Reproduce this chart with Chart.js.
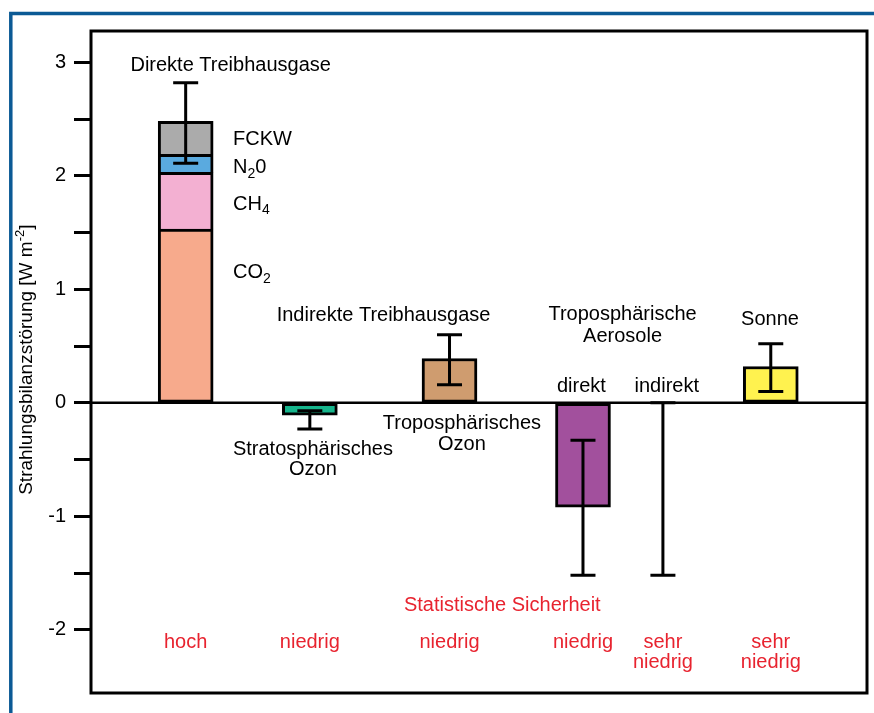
<!DOCTYPE html>
<html>
<head>
<meta charset="utf-8">
<script src="https://cdn.jsdelivr.net/npm/chart.js@4.4.1/dist/chart.umd.min.js"></script>
<style>
  html, body { margin: 0; padding: 0; background: #fff; }
  #wrap { width: 874px; height: 713px; position: relative; }
</style>
</head>
<body>
<div id="wrap"><canvas id="c"></canvas></div>
<script>
// ---- data ---------------------------------------------------------------
const categories = ['Direkte Treibhausgase', 'Stratosphärisches Ozon', 'Troposphärisches Ozon',
                    'Troposphärische Aerosole direkt', 'Troposphärische Aerosole indirekt', 'Sonne'];
// horizontal slot of each category on the (hidden) linear x axis
const slots = [1.22, 2.82, 4.62, 6.34, 7.37, 8.76];

// components of the direct greenhouse-gas bar (W m-2), stacked bottom to top
const gasLabels  = ['CO_{2}', 'CH_{4}', 'N_{2}0', 'FCKW'];
const gasForcing = [1.53, 0.50, 0.16, 0.29];

// single bars (null = no bar, only an uncertainty range)
const barForcing = [null, -0.11, 0.39, -0.92, null, 0.32];

// uncertainty ranges
const errorLow  = [2.11, -0.23, 0.16, -1.52, -1.52, 0.10];
const errorHigh = [2.82, -0.07, 0.60, -0.33, 0.00, 0.52];

// statistical certainty per category
const certainty = [['hoch'], ['niedrig'], ['niedrig'], ['niedrig'], ['sehr', 'niedrig'], ['sehr', 'niedrig']];

const yTickValues = [-2, -1.5, -1, -0.5, 0, 0.5, 1, 1.5, 2, 2.5, 3];

// ---- styles ---------------------------------------------------------------
const gasColors = ['#f7aa8c', '#f3b0d2', '#5aaadf', '#ababab'];
const barColors = [null, '#16b58c', '#cf9c6f', '#a2509d', null, '#fff24f'];
const FONT = '"Liberation Sans", Arial, Helvetica, sans-serif';
const FS = 20;
const RED = '#e8232f';

// text annotations: position in axis units (x slot, y value)
const notes = [
  { text: 'Direkte Treibhausgase', x: 1.80, y: 2.97, align: 'center' },
  { text: gasLabels[3], x: 1.83, y: 2.32, align: 'left' },
  { text: gasLabels[2], x: 1.83, y: 2.07, align: 'left' },
  { text: gasLabels[1], x: 1.83, y: 1.75, align: 'left' },
  { text: gasLabels[0], x: 1.83, y: 1.15, align: 'left' },
  { text: 'Indirekte Treibhausgase', x: 3.77, y: 0.765, align: 'center' },
  { text: 'Stratosphärisches', x: 2.86, y: -0.41, align: 'center' },
  { text: 'Ozon', x: 2.86, y: -0.59, align: 'center' },
  { text: 'Troposphärisches', x: 4.78, y: -0.18, align: 'center' },
  { text: 'Ozon', x: 4.78, y: -0.37, align: 'center' },
  { text: 'Troposphärische', x: 6.85, y: 0.775, align: 'center' },
  { text: 'Aerosole', x: 6.85, y: 0.585, align: 'center' },
  { text: 'direkt', x: 6.32, y: 0.145, align: 'center' },
  { text: 'indirekt', x: 7.42, y: 0.145, align: 'center' },
  { text: 'Sonne', x: 8.75, y: 0.73, align: 'center' },
  { text: 'Statistische Sicherheit', x: 5.30, y: -1.785, align: 'center', color: RED }
];

// ---- helpers --------------------------------------------------------------
// draws text with _{sub} and ^{sup} parts, vertically centred on py
function drawRich(ctx, src, px, py, align, size, color) {
  const parts = [];
  const re = /([_^])\{([^}]*)\}|([^_^]+)/g;
  let m;
  while ((m = re.exec(src)) !== null) {
    if (m[3] !== undefined) parts.push({ t: m[3], k: 'n' });
    else parts.push({ t: m[2], k: m[1] === '_' ? 'sub' : 'sup' });
  }
  const small = Math.round(size * 0.68);
  let total = 0;
  for (const p of parts) {
    ctx.font = (p.k === 'n' ? size : small) + 'px ' + FONT;
    p.w = ctx.measureText(p.t).width;
    total += p.w;
  }
  let xx = align === 'center' ? px - total / 2 : align === 'right' ? px - total : px;
  ctx.fillStyle = color || '#000';
  ctx.textAlign = 'left';
  ctx.textBaseline = 'middle';
  for (const p of parts) {
    ctx.font = (p.k === 'n' ? size : small) + 'px ' + FONT;
    const dy = p.k === 'sub' ? size * 0.32 : p.k === 'sup' ? -size * 0.36 : 0;
    ctx.fillText(p.t, xx, py + dy);
    xx += p.w;
  }
}

// ---- datasets -------------------------------------------------------------
const datasets = [];
let base = 0;
gasForcing.forEach((v, i) => {
  datasets.push({
    label: gasLabels[i],
    data: [{ x: slots[0], y: [base, base + v] }],
    backgroundColor: gasColors[i],
    borderColor: '#000',
    borderWidth: 3,
    borderSkipped: i === 0 ? false : 'start',
    barThickness: 55,
    grouped: false
  });
  base += v;
});
const singleIdx = barForcing.map((v, i) => i).filter(i => barForcing[i] !== null);
datasets.push({
  label: 'Einzelbeiträge',
  data: singleIdx.map(i => ({ x: slots[i], y: [0, barForcing[i]] })),
  backgroundColor: singleIdx.map(i => barColors[i]),
  borderColor: '#000',
  borderWidth: 3,
  borderSkipped: false,
  barThickness: 55,
  grouped: false
});

// ---- decorations plugin ---------------------------------------------------
const decor = {
  id: 'decor',
  beforeDraw(chart) {
    const { ctx, width, height } = chart;
    ctx.save();
    ctx.fillStyle = '#fff';
    ctx.fillRect(0, 0, width, height);
    ctx.strokeStyle = '#0b5a95';
    ctx.lineWidth = 3.5;
    ctx.beginPath();
    ctx.moveTo(10.8, height);
    ctx.lineTo(10.8, 13.5);
    ctx.lineTo(width, 13.5);
    ctx.stroke();
    ctx.restore();
  },
  afterDatasetsDraw(chart) {
    const { ctx, chartArea: a, scales: { x, y } } = chart;
    ctx.save();
    ctx.strokeStyle = '#000';
    ctx.lineCap = 'butt';

    // zero line
    ctx.lineWidth = 2.5;
    ctx.beginPath();
    ctx.moveTo(a.left, y.getPixelForValue(0));
    ctx.lineTo(a.right, y.getPixelForValue(0));
    ctx.stroke();

    // plot frame
    ctx.lineWidth = 3;
    ctx.strokeRect(a.left, a.top, a.right - a.left, a.bottom - a.top);

    // uncertainty ranges
    ctx.lineWidth = 3;
    const cap = 12.5;
    slots.forEach((s, i) => {
      const px = x.getPixelForValue(s);
      const y1 = y.getPixelForValue(errorHigh[i]);
      const y2 = y.getPixelForValue(errorLow[i]);
      ctx.beginPath();
      ctx.moveTo(px, y1); ctx.lineTo(px, y2);
      ctx.moveTo(px - cap, y1); ctx.lineTo(px + cap, y1);
      ctx.moveTo(px - cap, y2); ctx.lineTo(px + cap, y2);
      ctx.stroke();
    });

    // annotations
    notes.forEach(n => {
      drawRich(ctx, n.text, x.getPixelForValue(n.x), y.getPixelForValue(n.y), n.align, FS, n.color);
    });

    // statistical certainty labels
    certainty.forEach((lines, i) => {
      lines.forEach((t, j) => {
        drawRich(ctx, t, x.getPixelForValue(slots[i]), y.getPixelForValue(-2.11 - j * 0.175), 'center', FS, RED);
      });
    });

    // y-axis title
    ctx.translate(27, y.getPixelForValue(0.38));
    ctx.rotate(-Math.PI / 2);
    drawRich(ctx, 'Strahlungsbilanzstörung [W m^{-2}]', 0, 0, 'center', 19, '#000');
    ctx.restore();
  }
};

Chart.defaults.font.family = FONT;
Chart.defaults.font.size = FS;
Chart.defaults.color = '#000';

new Chart(document.getElementById('c'), {
  type: 'bar',
  data: { datasets },
  options: {
    responsive: true,
    maintainAspectRatio: false,
    animation: false,
    layout: { padding: { left: 0, top: 31, right: 7, bottom: 17 } },
    plugins: { legend: { display: false }, tooltip: { enabled: false } },
    scales: {
      x: { type: 'linear', min: 0, max: 10, offset: false, display: false },
      y: {
        type: 'linear',
        min: -2.557,
        max: 3.276,
        afterFit(scale) { scale.width = 91; },
        afterBuildTicks(scale) { scale.ticks = yTickValues.map(v => ({ value: v })); },
        ticks: {
          padding: 8,
          callback: (v) => Number.isInteger(v) ? String(v) : '',
          font: { size: FS }
        },
        grid: {
          drawOnChartArea: false,
          drawTicks: true,
          tickLength: 17,
          tickWidth: 3,
          tickColor: '#000'
        },
        border: { display: false }
      }
    }
  },
  plugins: [decor]
});
</script>
</body>
</html>
